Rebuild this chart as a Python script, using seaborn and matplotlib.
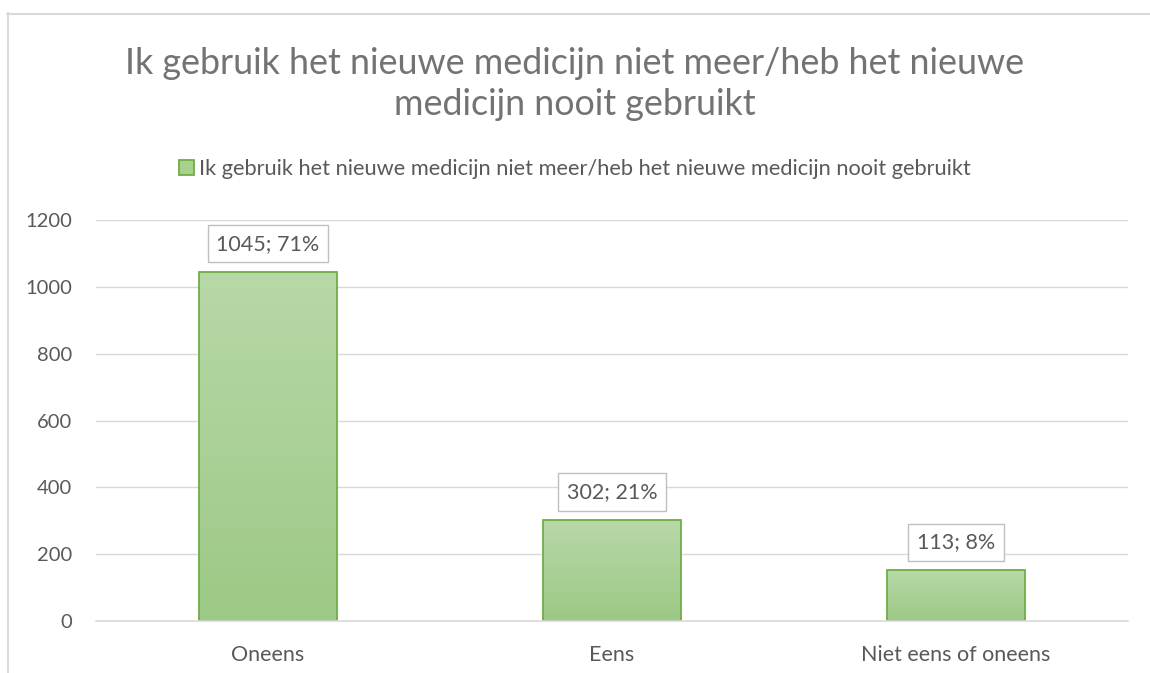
import numpy as np
import pandas as pd
import matplotlib
matplotlib.use("Agg")
import matplotlib.pyplot as plt
import seaborn as sns
from matplotlib.lines import Line2D
from matplotlib.patches import Rectangle

# Data
categories = ["Oneens", "Eens", "Niet eens of oneens"]
bar_values = [1045, 302, 152]          # drawn bar heights
label_texts = ["1045; 71%", "302; 21%", "113; 8%"]
series_name = "Ik gebruik het nieuwe medicijn niet meer/heb het nieuwe medicijn nooit gebruikt"
title = "Ik gebruik het nieuwe medicijn niet meer/heb het nieuwe\nmedicijn nooit gebruikt"
yticks = [0, 200, 400, 600, 800, 1000, 1200]

df = pd.DataFrame({"cat": categories, "val": bar_values})

sns.set_style("white")
plt.rcParams["font.family"] = ["Lato", "DejaVu Sans"]

grey_txt = "#595959"
grid_col = "#d9d9d9"
edge_green = "#70ad47"

fig = plt.figure(figsize=(11.5, 6.73), dpi=100)
ax = fig.add_axes([96 / 1150, 1 - 621 / 673, 1032 / 1150, 401 / 673])

sns.barplot(data=df, x="cat", y="val", ax=ax, width=0.4,
            color="#a9d18e", edgecolor=edge_green, linewidth=1.3)

# vertical gradient inside each bar
grad = np.linspace(0, 1, 256).reshape(-1, 1)
cmap = matplotlib.colors.LinearSegmentedColormap.from_list("g", ["#9cc985", "#b8d8a8"])
for p in ax.patches:
    x0, y0, w, h = p.get_x(), p.get_y(), p.get_width(), p.get_height()
    im = ax.imshow(grad, extent=[x0, x0 + w, y0, y0 + h], origin="lower",
                   cmap=cmap, aspect="auto", zorder=p.get_zorder() - 0.1)
    im.set_clip_path(p)
    p.set_facecolor("none")

ax.set_xlim(-0.5, 2.5)
ax.set_ylim(0, 1200)
ax.set_yticks(yticks)
ax.set_xlabel("")
ax.set_ylabel("")
ax.grid(axis="y", color=grid_col, linewidth=1)
ax.set_axisbelow(True)
for s in ["top", "right", "left"]:
    ax.spines[s].set_visible(False)
ax.spines["bottom"].set_color(grid_col)
ax.spines["bottom"].set_linewidth(1.2)
ax.tick_params(axis="y", length=0, pad=17, labelsize=14.5, labelcolor=grey_txt)
ax.tick_params(axis="x", which="major", length=0, pad=17, labelsize=15.5, labelcolor=grey_txt)
ax.set_xticks([-0.5, 0.5, 1.5, 2.5], minor=True)
ax.tick_params(axis="x", which="minor", length=6, width=1.2, color=grid_col, direction="out")

# data labels
for i, (v, t) in enumerate(zip(bar_values, label_texts)):
    ax.annotate(t, (i, v), xytext=(0, 13), textcoords="offset points",
                ha="center", va="bottom", fontsize=15.5, color=grey_txt,
                bbox=dict(boxstyle="square,pad=0.4", fc="white", ec="#bfbfbf", lw=1))

fig.text(0.5, 1 - 84 / 673, title, ha="center", va="center", fontsize=25.8,
         color="#737373", linespacing=1.3)

handle = Rectangle((0, 0), 1, 1, fc="#a9d18e", ec=edge_green, lw=1.3)
fig.legend([handle], [series_name], loc="center", bbox_to_anchor=(0.5, 1 - 169 / 673),
           frameon=False, fontsize=15.7, labelcolor=grey_txt, handlelength=0.7,
           handleheight=0.7, handletextpad=0.25)

# chart border
fig.add_artist(Line2D([7.5 / 1150, 7.5 / 1150], [0, 1 - 13 / 673], color=grid_col, lw=1.5))
fig.add_artist(Line2D([7 / 1150, 1], [1 - 13.5 / 673, 1 - 13.5 / 673], color=grid_col, lw=1.5))

fig.savefig("out.png", dpi=100)
